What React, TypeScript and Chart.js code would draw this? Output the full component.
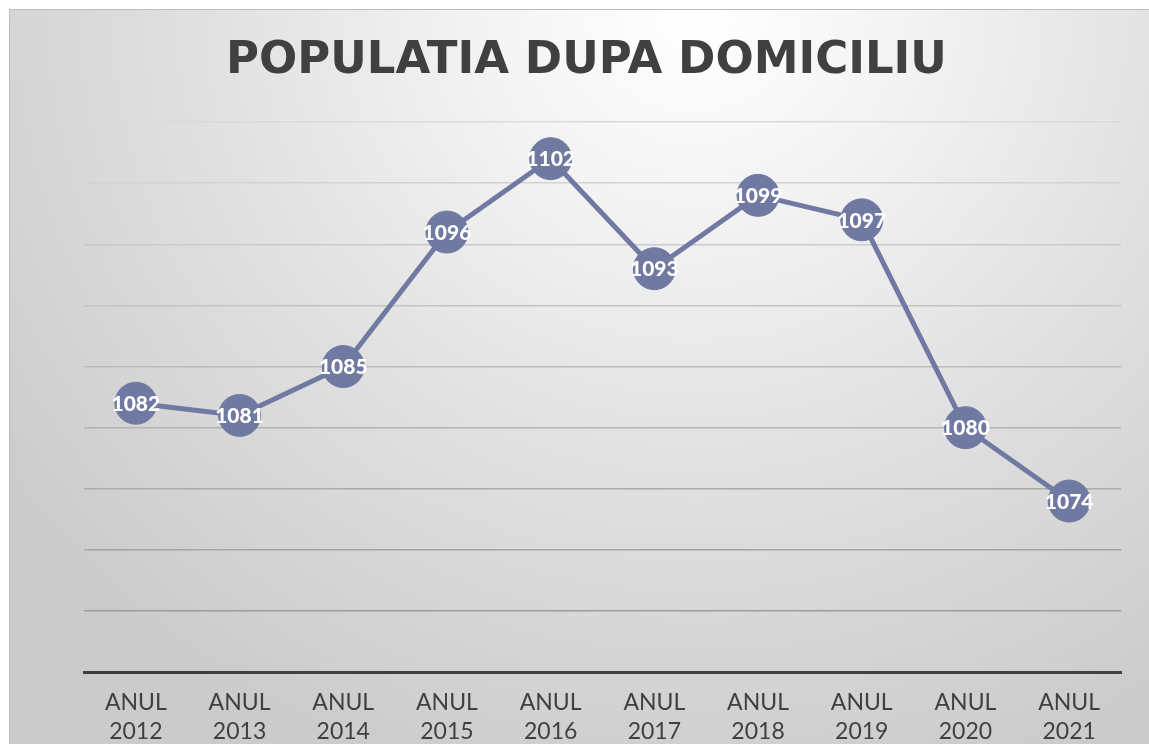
import React, { useEffect, useRef } from "react";
import { Chart, registerables } from "chart.js";

Chart.register(...registerables);

const TITLE = "POPULATIA DUPA DOMICILIU";
const years = ["2012", "2013", "2014", "2015", "2016", "2017", "2018", "2019", "2020", "2021"];
const categories = years.map((y) => ["ANUL", y]);
const values = [1082, 1081, 1085, 1096, 1102, 1093, 1099, 1097, 1080, 1074];
const yMin = 1060;
const yMax = 1105;
const yStep = 5;

const LINE_COLOR = "#6f79a1";

function gridColor(v: number): string {
  if (v <= yMin) return "rgba(0,0,0,0)";
  const t = (yMax - v) / (yMax - yMin); // 0 top .. 1 bottom
  const c = Math.round(218 - t * 70);
  return `rgb(${c},${c},${c})`;
}

export default function App() {
  const ref = useRef<HTMLCanvasElement | null>(null);

  useEffect(() => {
    if (!ref.current) return;
    const titlePlugin = {
      id: "customTitle",
      afterDraw(chart: any) {
        const ctx = chart.ctx;
        ctx.save();
        ctx.font = "bold 45px 'DejaVu Sans', sans-serif";
        ctx.fillStyle = "#404040";
        ctx.textAlign = "center";
        ctx.textBaseline = "alphabetic";
        ctx.fillText(TITLE, 576.5, 63);
        ctx.restore();
      },
    };
    const labelPlugin = {
      id: "pointLabels",
      afterDatasetsDraw(chart: any) {
        const ctx = chart.ctx;
        const meta = chart.getDatasetMeta(0);
        ctx.save();
        ctx.font = "900 21px Lato, 'Open Sans', sans-serif";
        ctx.fillStyle = "#ffffff";
        ctx.textAlign = "center";
        ctx.textBaseline = "middle";
        meta.data.forEach((pt: any, i: number) => {
          ctx.fillText(String(values[i]), pt.x, pt.y + 1);
        });
        ctx.restore();
      },
    };
    const chart = new Chart(ref.current, {
      type: "line",
      data: {
        labels: categories,
        datasets: [
          {
            data: values,
            borderColor: LINE_COLOR,
            backgroundColor: LINE_COLOR,
            borderWidth: 5,
            pointRadius: 21,
            pointBorderWidth: 1,
            pointBorderColor: LINE_COLOR,
            pointBackgroundColor: LINE_COLOR,
            tension: 0,
            clip: false as any,
          },
        ],
      },
      options: {
        animation: false,
        responsive: false,
        maintainAspectRatio: false,
        layout: { padding: { left: 74, right: 28, top: 112, bottom: 3 } },
        plugins: {
          legend: { display: false },
          title: { display: false },
          tooltip: { enabled: false },
        },
        scales: {
          x: {
            offset: true,
            grid: { display: false, drawTicks: false },
            border: { display: true, color: "#404040", width: 3 },
            ticks: {
              padding: 15,
              color: "#404040",
              font: { family: "Lato, 'Open Sans', sans-serif", size: 23, lineHeight: 1.3 },
              maxRotation: 0,
              autoSkip: false,
            },
          },
          y: {
            min: yMin,
            max: yMax,
            grid: {
              drawTicks: false,
              lineWidth: 1.5,
              color: (c: any) => gridColor(c.tick ? c.tick.value : 0),
            },
            border: { display: false },
            ticks: { display: false, stepSize: yStep },
          },
        },
      },
      plugins: [titlePlugin, labelPlugin],
    });
    return () => chart.destroy();
  }, []);

  return (
    <div
      style={{
        position: "absolute",
        left: 9,
        top: 9,
        width: 1140,
        height: 735,
        overflow: "hidden",
        borderTop: "1px solid #bdbdbd",
        borderLeft: "1px solid #bdbdbd",
        background:
          "radial-gradient(ellipse 75% 110% at 60% 0%, #ffffff 0%, #f3f3f3 25%, #dfdfdf 60%, #cbcbcb 100%)",
      }}
    >
      <canvas ref={ref} width={1139} height={755} style={{ display: "block" }} />
    </div>
  );
}
